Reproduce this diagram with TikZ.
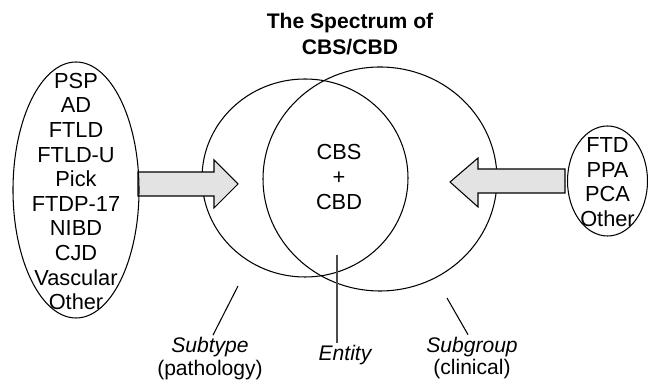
\documentclass[tikz,border=0pt]{standalone}
\usepackage{fontspec}
\setmainfont{Liberation Sans}

\newcommand{\lstfont}{\fontsize{12.4}{14}\selectfont}
\newcommand{\lblfont}{\fontsize{12}{12.8}\selectfont}

\tikzset{
  listtext/.style={inner sep=0pt, align=center, font=\lstfont},
  bigarrow/.style={draw, fill=black!11, line join=miter},
  lbl/.style={align=center, font=\lblfont, inner sep=1pt}
}

\begin{document}
\begin{tikzpicture}[line width=0.6pt]
\useasboundingbox (0,0) rectangle (12.96,7.74);

\node[align=center,font=\fontsize{12}{14.8}\selectfont\bfseries] (title) at (7.0,7.06) {The Spectrum of\\CBS/CBD};

% subtype and subgroup
\draw (6.10,4.18) ellipse (2.06 and 1.98);
\draw (7.60,4.16) ellipse (2.34 and 2.24);
\node[listtext] (cbs) at (6.78,4.20) {CBS\\+\\CBD};

\draw[bigarrow] (2.76,4.30) -- (4.28,4.30) -- (4.28,4.54) -- (4.76,4.06) -- (4.28,3.58) -- (4.28,3.82) -- (2.76,3.82) -- cycle;
\draw[bigarrow] (11.30,4.36) -- (9.56,4.36) -- (9.56,4.58) -- (9.00,4.10) -- (9.56,3.60) -- (9.56,3.88) -- (11.30,3.88) -- cycle;

\node[listtext] (path) at (1.52,3.91) {PSP\\AD\\FTLD\\FTLD-U\\Pick\\FTDP-17\\NIBD\\CJD\\Vascular\\Other};
\draw ([yshift=0.03cm]path.center) ellipse (1.26 and 2.56);
\node[listtext] (clin) at (12.15,4.10) {FTD\\PPA\\PCA\\Other};
\draw ([yshift=0.02cm]clin.center) ellipse (0.80 and 1.10);

% labels
\coordinate (t1) at (4.76,2.02);
\coordinate (e1) at (6.74,2.64);
\coordinate (g1) at (8.94,1.78);

\node[lbl] (subtype) at (4.20,0.57) {{\itshape Subtype}\\(pathology)};
\draw ([xshift=0.06cm]subtype.north) -- (t1);
\node[lbl] (entity) at (6.90,0.64) {\itshape Entity};
\draw[black!70,line width=0.8pt] (e1) -- (e1 |- entity.north);
\node[lbl] (subgroup) at (9.44,0.58) {{\itshape Subgroup}\\(clinical)};
\draw ([xshift=-0.08cm]subgroup.north) -- (g1);
\end{tikzpicture}
\end{document}
